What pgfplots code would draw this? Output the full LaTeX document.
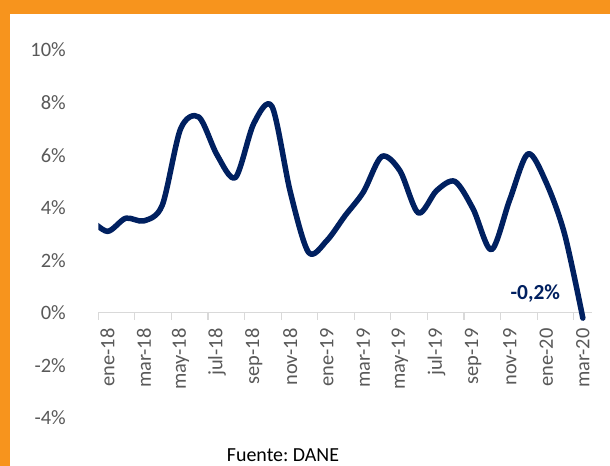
\documentclass[border=0pt]{standalone}
\usepackage{pgfplots}
\pgfplotsset{compat=1.18}
\usepackage{fontspec}
\setmainfont{Carlito}
\definecolor{navy}{HTML}{002060}
\definecolor{orangeb}{HTML}{F7941D}
\definecolor{axgray}{HTML}{D9D9D9}
\definecolor{txtgray}{HTML}{595959}
\pgfplotstableread{
x y
-1 3.6
0 3.1
1 3.6
2 3.5
3 4.1
4 7.0
5 7.45
6 6.0
7 5.15
8 7.2
9 7.85
10 4.6
11 2.3
12 2.75
13 3.7
14 4.6
15 5.95
16 5.4
17 3.8
18 4.65
19 5.0
20 3.95
21 2.4
22 4.3
23 6.05
24 4.95
25 3.0
26 -0.2
}\ipc
\begin{document}
\begin{tikzpicture}
\fill[white] (0,0) rectangle (610bp,466bp);
\fill[orangeb] (0,452bp) rectangle (610bp,466bp);
\fill[orangeb] (0,0) rectangle (10bp,466bp);
\path[use as bounding box] (0,0) rectangle (610bp,466bp);
\begin{axis}[
 at={(98.3bp,48bp)}, anchor=south west,
 scale only axis, width=493.7bp, height=368bp,
 xmin=-0.5, xmax=26.5, ymin=-4, ymax=10,
 axis x line=middle, axis y line=left,
 x axis line style={-, draw=axgray, line width=1.2pt},
 y axis line style={draw=none},
 hide obscured x ticks=false, hide obscured y ticks=false,
 ytick={-4,-2,...,10},
 yticklabels={-4\%,-2\%,0\%,2\%,4\%,6\%,8\%,10\%},
 xtick={0,2,...,26},
 xticklabels={ene-18,mar-18,may-18,jul-18,sep-18,nov-18,ene-19,mar-19,may-19,jul-19,sep-19,nov-19,ene-20,mar-20},
 minor xtick={-0.5,1.5,...,25.5},
 major tick length=0pt,
 minor tick length=7bp,
 tick align=outside,
 minor x tick style={draw=axgray, line width=1.2pt},
 yticklabel style={anchor=east, xshift=-29bp, text=txtgray, font=\fontsize{20.5}{24}\selectfont},
 xticklabel style={rotate=90, anchor=east, xshift=-12bp, text=txtgray, font=\fontsize{20.5}{24}\selectfont},
 clip=true,
]
\addplot[navy, line width=5.5bp, smooth, line cap=round, line join=round] table[x=x,y=y] {\ipc};
\node[font=\bfseries\fontsize{21.5}{24}\selectfont, text=navy] at (axis cs:23.4,0.75) {-0,2\%};
\end{axis}
\node[font=\fontsize{20}{24}\selectfont, text=black] at (283bp,11bp) {Fuente:\ DANE};
\end{tikzpicture}
\end{document}
